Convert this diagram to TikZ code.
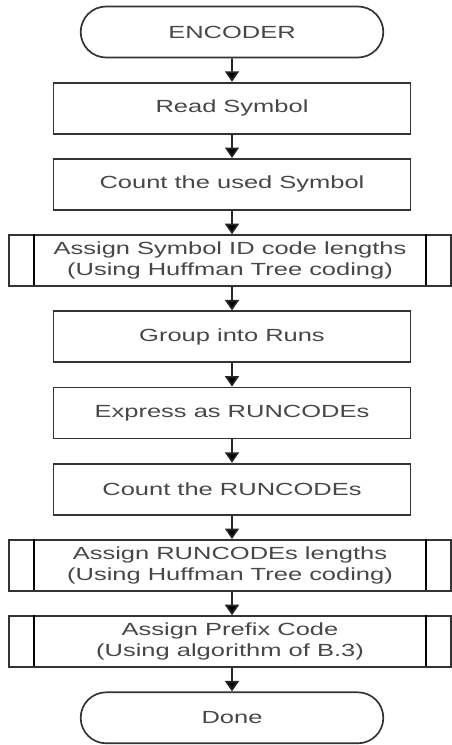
\documentclass[tikz,border=0pt]{standalone}
\usepackage{fontspec}
\setmainfont{Liberation Sans}[FakeStretch=1.45]
\usetikzlibrary{arrows.meta}
\usetikzlibrary{shapes.misc}

\begin{document}
\begin{tikzpicture}[>={Triangle[length=7.5pt,width=10pt]},
      line width=1.2pt,
      every node/.style={font=\fontsize{12.5}{15}\selectfont,text=black!72,align=center},
      term/.style={draw=black!80,rounded rectangle,minimum width=7.8cm,minimum height=1.275cm},
      proc/.style={draw=black!80,rectangle,minimum width=8.925cm,minimum height=1.275cm},
      subproc/.style={proc,minimum width=11.05cm,
        append after command={
          (\tikzlastnode.north west) ++(0.65,0) edge[-] ++(0,-1.275)
          (\tikzlastnode.north east) ++(-0.65,0) edge[-] ++(0,-1.275)}}]
    \useasboundingbox (0,0) rectangle (11.275,-18.625);
    \node[term]    (enc)     at (5.8,-0.8)    {ENCODER};
    \node[proc]    (read)    at (5.8,-2.705)  {Read Symbol};
    \node[proc]    (count)   at (5.8,-4.61)   {Count the used Symbol};
    \node[subproc] (symlen)  at (5.75,-6.515) {Assign Symbol ID code lengths\\(Using Huffman Tree coding)};
    \node[proc]    (group)   at (5.8,-8.42)   {Group into Runs};
    \node[proc]    (express) at (5.8,-10.325) {Express as RUNCODEs};
    \node[proc]    (countrc) at (5.8,-12.23)  {Count the RUNCODEs};
    \node[subproc] (rclen)   at (5.75,-14.135){Assign RUNCODEs lengths\\(Using Huffman Tree coding)};
    \node[subproc] (prefix)  at (5.75,-16.04) {Assign Prefix Code\\(Using algorithm of B.3)};
    \node[term]    (done)    at (5.8,-17.945) {Done};
         \path[draw=black!85]
         (enc)     edge [->] (read)
         (read)    edge [->] (count)
         (count)   edge [->] (count|-symlen.north)
         (group|-symlen.south)   edge [->] (group)
         (group)   edge [->] (express)
         (express) edge [->] (countrc)
         (countrc) edge [->] (countrc|-rclen.north)
         (countrc|-rclen.south)  edge [->] (countrc|-prefix.north)
         (countrc|-prefix.south) edge [->] (done);
  \end{tikzpicture}
\end{document}
